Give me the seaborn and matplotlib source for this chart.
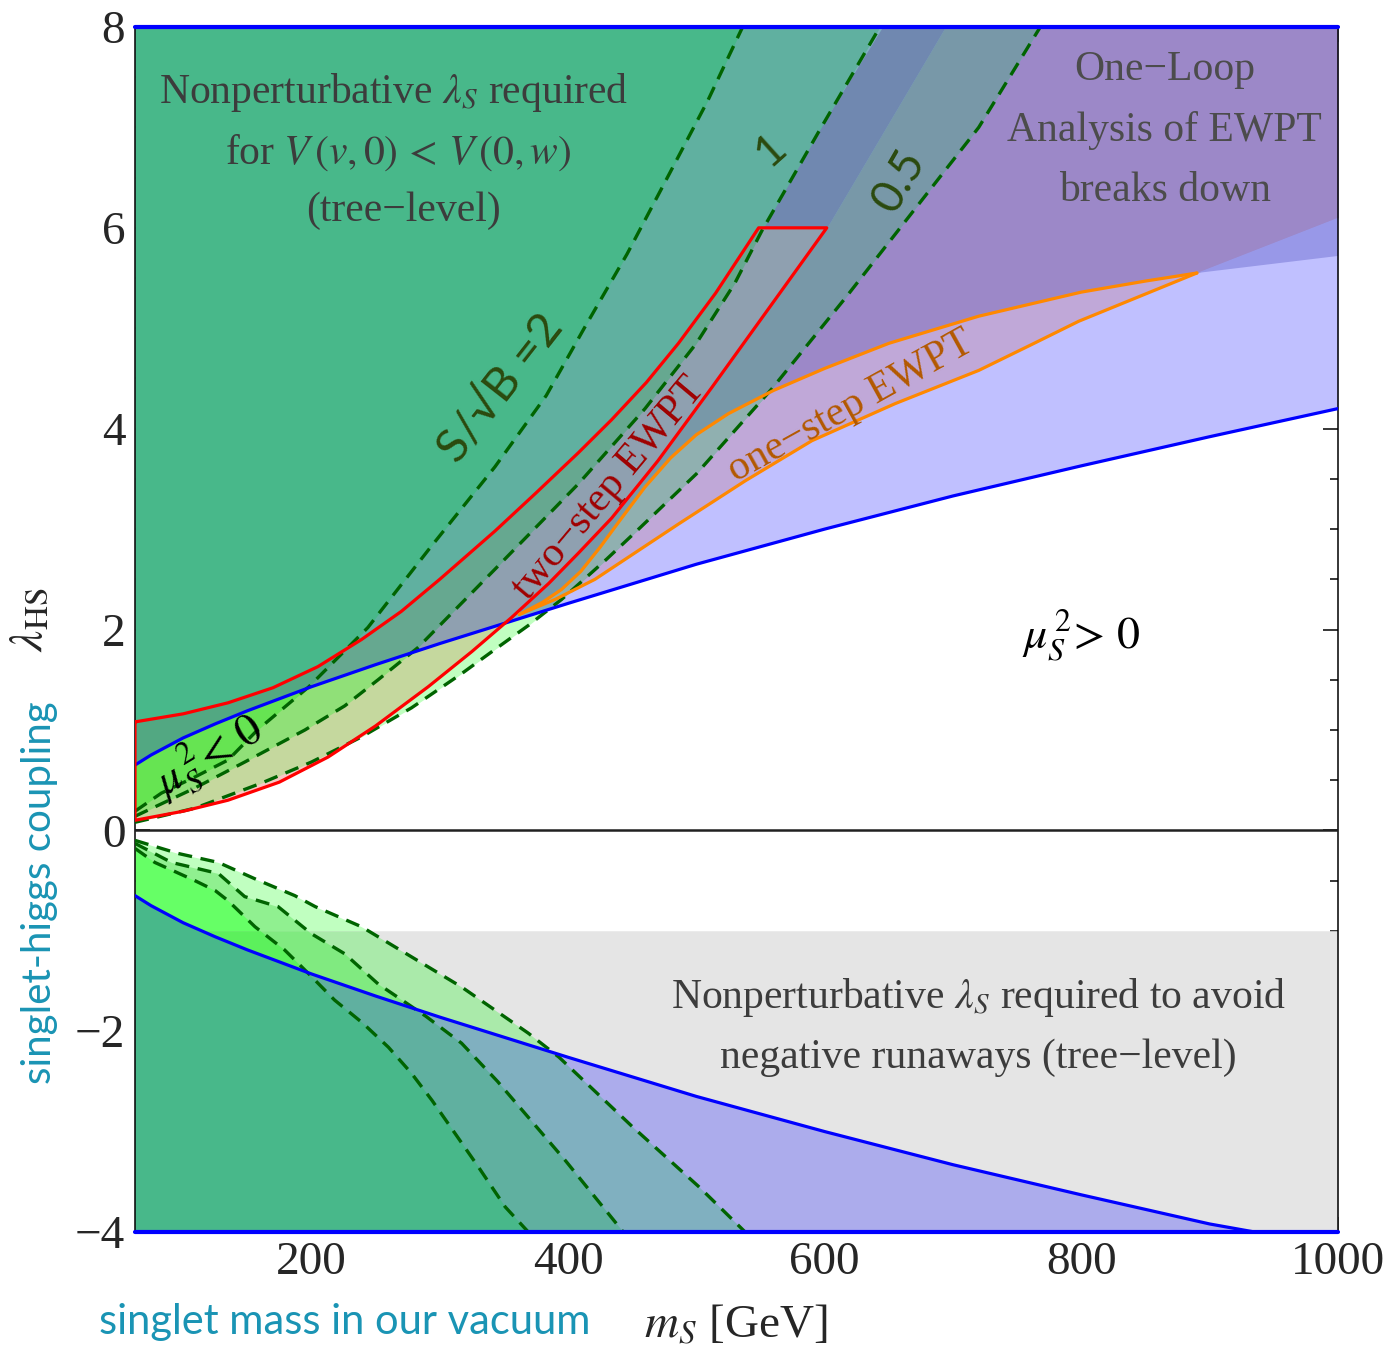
import numpy as np
import matplotlib
matplotlib.use("Agg")
import matplotlib.pyplot as plt
from matplotlib.ticker import MultipleLocator
import seaborn as sns

# ---------------- data ----------------
blue_up_x = [62.5, 75, 100, 125, 150, 175, 200, 250, 300, 350, 400, 500, 600, 700, 800, 900, 1000]
blue_up_y = [0.65, 0.75, 0.92, 1.06, 1.19, 1.31, 1.43, 1.65, 1.86, 2.06, 2.26, 2.65, 3.0, 3.33, 3.63, 3.92, 4.2]
blue_lo_x = [62.5, 75, 100, 125, 150, 175, 200, 250, 300, 350, 400, 500, 600, 700, 800, 900, 935]
blue_lo_y = [-0.65, -0.75, -0.92, -1.06, -1.19, -1.31, -1.43, -1.65, -1.86, -2.06, -2.26, -2.65, -3.0, -3.33, -3.63, -3.92, -4.0]

# S/sqrt(B) contours, upper half (2, 1, 0.5)
sb2_up_x = [62.5, 83, 109, 135, 158, 198, 244, 291, 343, 383, 413, 446, 479, 509, 536]
sb2_up_y = [0.19, 0.37, 0.53, 0.70, 1.0, 1.43, 2.02, 2.79, 3.62, 4.33, 5.01, 5.74, 6.54, 7.27, 8.0]
sb1_up_x = [62.5, 109, 148, 195, 226, 252, 283, 343, 408, 460, 500, 530, 551, 595, 643]
sb1_up_y = [0.14, 0.42, 0.68, 1.0, 1.24, 1.5, 1.82, 2.6, 3.45, 4.2, 4.85, 5.45, 5.97, 6.95, 8.0]
sb05_up_x = [62.5, 109, 161, 200, 239, 278, 317, 345, 369, 395, 430, 455, 500, 559, 616, 668, 720, 768]
sb05_up_y = [0.08, 0.22, 0.47, 0.68, 0.93, 1.22, 1.56, 1.82, 2.04, 2.3, 2.7, 3.0, 3.55, 4.4, 5.3, 6.15, 7.0, 8.0]
# lower half
sb2_lo_x = [62.5, 78, 109, 125, 135, 156, 179, 198, 218, 240, 260, 278, 294, 330, 351, 369]
sb2_lo_y = [-0.18, -0.32, -0.5, -0.6, -0.7, -0.96, -1.19, -1.43, -1.69, -1.92, -2.16, -2.42, -2.69, -3.35, -3.75, -4.0]
sb1_lo_x = [62.5, 91, 127.5, 148, 174, 200, 226, 252, 289, 317, 345, 398, 443]
sb1_lo_y = [-0.13, -0.32, -0.43, -0.66, -0.76, -1.03, -1.23, -1.53, -1.85, -2.12, -2.5, -3.29, -4.0]
sb05_lo_x = [62.5, 96, 127.5, 159, 187, 203, 239, 278, 317, 343, 369, 393, 450, 502, 538]
sb05_lo_y = [-0.1, -0.23, -0.32, -0.5, -0.65, -0.76, -0.96, -1.26, -1.56, -1.79, -2.02, -2.26, -2.95, -3.55, -4.0]

# two-step EWPT region
red_up_x = [62.5, 100, 135, 170, 205, 239, 270, 300, 343, 375, 408, 434, 461, 486, 515, 548.5]
red_up_y = [1.08, 1.16, 1.27, 1.42, 1.63, 1.9, 2.18, 2.5, 2.98, 3.36, 3.76, 4.09, 4.46, 4.85, 5.35, 6.0]
red_lo_x = [62.5, 100, 135, 175, 213, 250, 291, 325, 356, 385, 408, 434, 470, 512, 565, 601.6]
red_lo_y = [0.1, 0.19, 0.30, 0.48, 0.73, 1.04, 1.43, 1.78, 2.12, 2.46, 2.76, 3.11, 3.68, 4.41, 5.35, 6.0]
red_up_ext_x = [548.5, 645]
red_up_ext_y = [6.0, 8.0]
red_lo_ext_x = [601.6, 694]
red_lo_ext_y = [6.0, 8.0]

# one-step EWPT region
or_up_x = [362, 380, 395, 410, 425, 440, 460, 480, 500, 525, 560, 600, 650, 720, 800, 850, 890]
or_up_y = [2.15, 2.27, 2.4, 2.58, 2.82, 3.08, 3.42, 3.71, 3.94, 4.15, 4.38, 4.6, 4.85, 5.12, 5.36, 5.47, 5.55]
or_lo_x = [362, 390, 421, 486, 538, 590, 655, 720, 760, 798, 890]
or_lo_y = [2.15, 2.3, 2.5, 3.05, 3.48, 3.88, 4.25, 4.58, 4.83, 5.07, 5.55]

# wedge beyond the one-step tip
tri_x = [890, 1000]
tri_up_y = [5.55, 6.1]
tri_lo_y = [5.55, 5.72]

x_ticks = [200, 400, 600, 800, 1000]
y_ticks = [-4, -2, 0, 2, 4, 6, 8]

# ---------------- colours ----------------
C = dict(
    W_S1="#c0ffc0", W_S2="#90f090", W_S3="#66ff66",
    Gy="#e5e5e5", Gy_S1="#aaeaaa", Gy_S2="#80ea80", Gy_S3="#5cf05c",
    R_W="#f7c8c4", R_S1="#c5d89e", R_S2="#90e078", R_S3="#66e452",
    B="#c0c0ff", B_Gy="#acacec",
    B_S1="#80b0c0", B_S2="#60b0a0", B_S3="#48b88a",
    P="#9c88c8", P_S1="#7898a8", O="#c0a8d8", O_S1="#90b0b0",
    Tri="#9898e8", Band_S1="#7088b0",
    R_B_S1="#8fa0b0", R_B_S2="#66a890", R_B_S3="#52a882",
)

sns.set_theme(style="ticks")
plt.rcParams["font.family"] = ["Liberation Serif", "DejaVu Serif"]
plt.rcParams["mathtext.fontset"] = "stix"
plt.rcParams["axes.unicode_minus"] = True

fig = plt.figure(figsize=(13.87, 13.48), dpi=100)
ax = fig.add_axes([135 / 1387, 1 - 1232 / 1348, (1338 - 135) / 1387, (1232 - 27) / 1348])
ax.set_xlim(62.5, 1000)
ax.set_ylim(-4, 8)

xg = np.linspace(62.5, 1000, 5000)


def f(xs, ys, left, right):
    return np.interp(xg, xs, ys, left=left, right=right)


bu = f(blue_up_x, blue_up_y, 0.65, 4.2)
bl = f(blue_lo_x, blue_lo_y, -0.65, -4.0)
D2 = f(sb2_up_x, sb2_up_y, 0.19, 8.0)
D1 = f(sb1_up_x, sb1_up_y, 0.14, 8.0)
D05 = f(sb05_up_x, sb05_up_y, 0.08, 8.0)
L2 = f(sb2_lo_x, sb2_lo_y, -0.18, -4.0)
L1 = f(sb1_lo_x, sb1_lo_y, -0.13, -4.0)
L05 = f(sb05_lo_x, sb05_lo_y, -0.1, -4.0)
ru = f(red_up_x + red_up_ext_x[1:], red_up_y + red_up_ext_y[1:], 1.08, 8.0)
rl = f(red_lo_x + red_lo_ext_x[1:], red_lo_y + red_lo_ext_y[1:], 0.1, 8.0)
in_or = (xg >= or_up_x[0]) & (xg <= or_up_x[-1])
ou = np.where(in_or, f(or_up_x, or_up_y, -10, -10), -10)
ol = np.where(in_or, f(or_lo_x, or_lo_y, -10, -10), -10)
in_tri = xg >= tri_x[0]
tup = np.where(in_tri, f(tri_x, tri_up_y, -10, -10), -10)
tlo = np.where(in_tri, f(tri_x, tri_lo_y, -10, -10), -10)
lowP = np.where(xg <= or_up_x[-1], ou, tup)
in_P = xg >= or_up_x[0]
in_red = xg <= red_lo_x[-1]
in_band = (xg >= red_up_x[-1]) & (xg <= red_lo_ext_x[-1])
mx, mn = np.maximum, np.minimum


def band(lo, hi, color, mask=None):
    m = hi > lo
    if mask is not None:
        m = m & mask
    ax.fill_between(xg, lo, hi, where=m, color=color, lw=0, interpolate=True, zorder=1)


# ---- lower half ----
band(np.full_like(xg, -4.0), np.full_like(xg, -1.0), C["Gy"])
for Lk, k in [(L05, "S1"), (L1, "S2"), (L2, "S3")]:
    band(np.full_like(xg, -1.0), Lk, C["W_" + k])
    band(np.full_like(xg, -4.0), mn(Lk, -1.0), C["Gy_" + k])
band(np.full_like(xg, -1.0), bl, C["B"])
band(np.full_like(xg, -4.0), mn(bl, -1.0), C["B_Gy"])
for Lk, k in [(L05, "S1"), (L1, "S2"), (L2, "S3")]:
    band(np.full_like(xg, -4.0), mn(bl, Lk), C["B_" + k])

# ---- upper half ----
top = np.full_like(xg, 8.0)
for Dk, k in [(D05, "S1"), (D1, "S2"), (D2, "S3")]:
    band(Dk, bu, C["W_" + k])
rtop = mn(mn(ru, 6.0), bu)
band(rl, rtop, C["R_W"], in_red)
for Dk, k in [(D05, "S1"), (D1, "S2"), (D2, "S3")]:
    band(mx(rl, Dk), rtop, C["R_" + k], in_red)
band(bu, top, C["B"])
band(lowP, mn(rl, 8.0), C["P"], in_P)
band(ol, ou, C["O"], in_or)
band(tlo, tup, C["Tri"], in_tri)
band(mx(bu, D05), top, C["B_S1"])
band(mx(lowP, D05), mn(rl, 8.0), C["P_S1"], in_P)
band(mx(ol, D05), ou, C["O_S1"], in_or)
band(mx(mx(rl, 6.0), D05), mn(ru, 8.0), C["Band_S1"], in_band)
band(mx(bu, D1), top, C["B_S2"])
band(mx(bu, D2), top, C["B_S3"])
for Dk, k in [(D05, "S1"), (D1, "S2"), (D2, "S3")]:
    band(mx(mx(rl, bu), Dk), mn(ru, 6.0), C["R_B_" + k], in_red)

# ---------------- lines ----------------
blue = "#0000ff"
lw = 2.3
sns.lineplot(x=blue_up_x, y=blue_up_y, sort=False, estimator=None, color=blue, lw=lw, ax=ax, zorder=5)
sns.lineplot(x=blue_lo_x, y=blue_lo_y, sort=False, estimator=None, color=blue, lw=lw, ax=ax, zorder=5)
ax.axhline(8, color=blue, lw=3, zorder=6, clip_on=False)
ax.axhline(-4, color=blue, lw=3, zorder=6, clip_on=False)
ax.axhline(0, color="#202020", lw=1.8, zorder=4)

dash = (0, (4.2, 2.6))
dgreen = "#006400"
for xs, ys in [(sb2_up_x, sb2_up_y), (sb1_up_x, sb1_up_y), (sb05_up_x, sb05_up_y),
               (sb2_lo_x, sb2_lo_y), (sb1_lo_x, sb1_lo_y), (sb05_lo_x, sb05_lo_y)]:
    sns.lineplot(x=xs, y=ys, sort=False, estimator=None, color=dgreen, lw=2.4,
                 linestyle=dash, ax=ax, zorder=4)

red_x = np.concatenate([red_up_x, red_lo_x[::-1], red_up_x[:1]])
red_y = np.concatenate([red_up_y, red_lo_y[::-1], red_up_y[:1]])
sns.lineplot(x=red_x, y=red_y, sort=False, estimator=None, color="#ff0000", lw=2.3, ax=ax, zorder=5)
orange = "#ff8800"
sns.lineplot(x=or_up_x, y=or_up_y, sort=False, estimator=None, color=orange, lw=2.3, ax=ax, zorder=5)
sns.lineplot(x=or_lo_x, y=or_lo_y, sort=False, estimator=None, color=orange, lw=2.3, ax=ax, zorder=5)

# ---------------- axes styling ----------------
ax.set_xticks(x_ticks)
ax.set_yticks(y_ticks)
ax.xaxis.set_minor_locator(MultipleLocator(50))
ax.yaxis.set_minor_locator(MultipleLocator(0.5))
ax.tick_params(which="both", direction="in", top=True, right=True, color="black", width=1.1)
ax.tick_params(which="major", length=11, labelsize=34, pad=7)
ax.tick_params(which="minor", length=6)
for s in ax.spines.values():
    s.set_color("black")
    s.set_linewidth(1.1)
ax.set_xlabel("")
ax.set_ylabel("")

# ---------------- texts ----------------
fs = 30
tcol = "#3c3c3c"
ax.text(264, 7.35, r"Nonperturbative $\lambda_S$ required", fontsize=fs, color=tcol, ha="center", va="center", zorder=8)
ax.text(268, 6.75, r"for $V\,(v,0)\,<\,V\,(0,w)$", fontsize=fs, color=tcol, ha="center", va="center", zorder=8)
ax.text(272, 6.17, "(tree\u2212level)", fontsize=fs, color=tcol, ha="center", va="center", zorder=8)

gcol = "#4c4c4c"
ax.text(865, 7.57, "One\u2212Loop", fontsize=fs, color=gcol, ha="center", va="center", zorder=8)
ax.text(865, 6.97, "Analysis of EWPT", fontsize=fs, color=gcol, ha="center", va="center", zorder=8)
ax.text(865, 6.37, "breaks down", fontsize=fs, color=gcol, ha="center", va="center", zorder=8)

ax.text(720, -1.66, r"Nonperturbative $\lambda_S$ required to avoid", fontsize=fs, color=tcol, ha="center", va="center", zorder=8)
ax.text(720, -2.26, "negative runaways (tree\u2212level)", fontsize=fs, color=tcol, ha="center", va="center", zorder=8)

ax.text(800, 1.94, r"$\mu_S^{\,2}\!>\,0$", fontsize=33, color="black", ha="center", va="center", zorder=8)
ax.text(120, 0.74, r"$\mu_S^{\,2}\!<\,0$", fontsize=33, color="black", ha="center", va="center",
        rotation=31, rotation_mode="anchor", zorder=8)

olive = "#2b4a0e"
sfam = ["Lato", "DejaVu Sans"]
ax.text(348, 4.40, "S/\u221aB =2", fontsize=34, color=olive, family=sfam, ha="center", va="center",
        rotation=52, rotation_mode="anchor", zorder=8)
ax.text(558, 6.77, "1", fontsize=32, color=olive, family=sfam, ha="center", va="center",
        rotation=42, rotation_mode="anchor", zorder=8)
ax.text(658, 6.47, "0.5", fontsize=33, color=olive, family=sfam, ha="center", va="center",
        rotation=60, rotation_mode="anchor", zorder=8)

ax.text(432, 3.40, "two\u2212step EWPT", fontsize=fs, color="#a00000", ha="center", va="center",
        rotation=50, rotation_mode="anchor", zorder=8)
ax.text(620, 4.22, "one\u2212step EWPT", fontsize=fs, color="#b35900", ha="center", va="center",
        rotation=29, rotation_mode="anchor", zorder=8)

teal = "#1a94b4"
fig.text(736 / 1387, 1 - 1325 / 1348, r"$m_S$ [GeV]", fontsize=34, ha="center", va="center")
fig.text(345 / 1387, 1 - 1322 / 1348, "singlet mass in our vacuum", fontsize=30, color=teal,
         family=sfam, ha="center", va="center")
fig.text(30 / 1387, 1 - 620 / 1348, r"$\lambda_{\mathrm{HS}}$", fontsize=34, rotation=90, ha="center", va="center")
fig.text(40 / 1387, 1 - 893 / 1348, "singlet-higgs coupling", fontsize=29, color=teal, family=sfam,
         rotation=90, ha="center", va="center")

fig.savefig("out.png", dpi=100)
